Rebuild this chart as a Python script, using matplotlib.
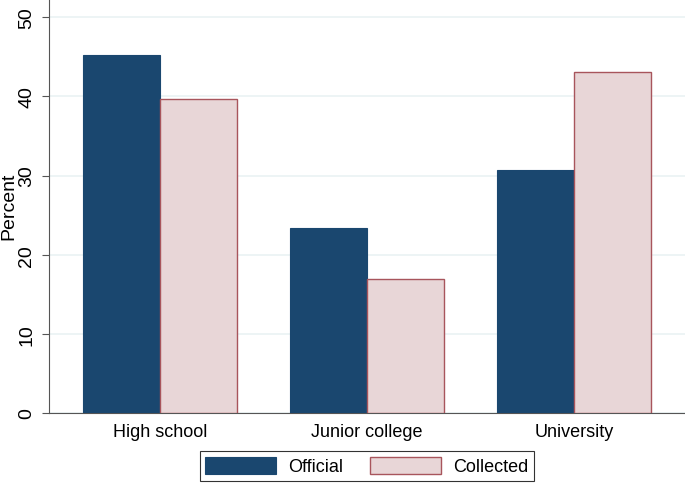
import matplotlib
matplotlib.use("Agg")
import matplotlib.pyplot as plt
import numpy as np

categories = ["High school", "Junior college", "University"]
official = [45.2, 23.4, 30.7]
collected = [39.7, 16.9, 43.1]
series_names = ["Official", "Collected"]
yticks = [0, 10, 20, 30, 40, 50]

plt.rcParams['font.family'] = ['Liberation Sans', 'DejaVu Sans']

fig = plt.figure(figsize=(6.85, 4.85), dpi=100)
ax = fig.add_axes([49/685, 71/485, 1 - 49/685, 1 - 71/485])

x = np.arange(len(categories))
w = 0.373
ax.bar(x - w/2, official, width=w, color='#1a476f', edgecolor='#1a476f', linewidth=0.8, label=series_names[0], zorder=3)
ax.bar(x + w/2, collected, width=w, color='#e8d6d7', edgecolor='#a8555c', linewidth=1.0, label=series_names[1], zorder=3)

ax.set_xlim(-0.537, 2.537)
ax.set_ylim(0, 52.3)
ax.set_yticks(yticks)
ax.set_yticklabels([str(t) for t in yticks], rotation=90, va='center', fontsize=14)
ax.set_xticks(x)
ax.set_xticklabels(categories, fontsize=13)
ax.tick_params(axis='x', length=0, pad=7)
ax.tick_params(axis='y', length=5, width=0.8, color='#555555', pad=5)
ax.grid(axis='y', color='#eaf2f3', linewidth=1.2, zorder=0)
for s in ['top', 'right']:
    ax.spines[s].set_visible(False)
ax.spines['left'].set_color('#555555')
ax.spines['bottom'].set_color('#555555')
fig.text(9/685, (485 - 206)/485, "Percent", rotation=90, ha='center', va='center', fontsize=14)

leg = ax.legend(loc='center', bbox_to_anchor=(367/685, (485 - 467)/485), bbox_transform=fig.transFigure,
                ncol=2, frameon=True, fancybox=False, edgecolor='black', fontsize=13,
                handlelength=3.9, handleheight=1.1, handletextpad=0.7, columnspacing=1.5, borderpad=0.3)
leg.get_frame().set_linewidth(0.8)

fig.savefig("out.png", dpi=100)
